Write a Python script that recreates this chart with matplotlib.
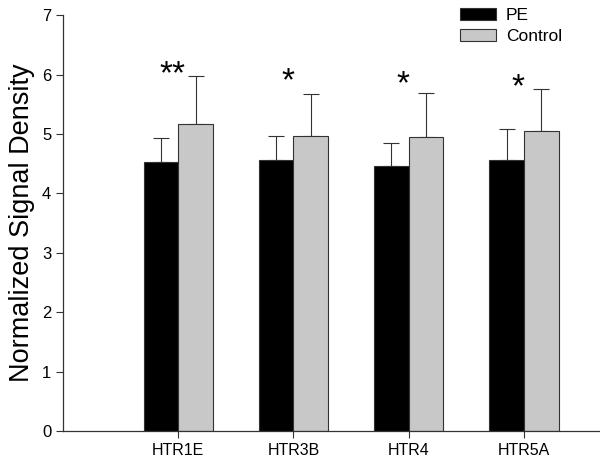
import matplotlib
matplotlib.use("Agg")
import matplotlib.pyplot as plt
import numpy as np

plt.rcParams['font.family'] = ['Liberation Sans', 'DejaVu Sans']

categories = ["HTR1E", "HTR3B", "HTR4", "HTR5A"]
pe_vals = [4.53, 4.56, 4.46, 4.56]
pe_err = [0.41, 0.40, 0.39, 0.52]
ctrl_vals = [5.17, 4.97, 4.95, 5.06]
ctrl_err = [0.81, 0.70, 0.74, 0.70]
stars = ["**", "*", "*", "*"]
star_y = [6.0, 5.88, 5.83, 5.78]

fig = plt.figure(figsize=(6.0, 4.63), dpi=100)
ax = fig.add_axes([0.105, 0.069, 0.895, 0.898])

x = np.arange(len(categories))
w = 0.30
edge = "#333333"
ax.bar(x - w/2, pe_vals, w, color="black", edgecolor=edge, linewidth=0.8, label="PE", zorder=2)
ax.bar(x + w/2, ctrl_vals, w, color="#c8c8c8", edgecolor=edge, linewidth=0.8, label="Control", zorder=2)
ax.errorbar(x - w/2, pe_vals, yerr=[np.zeros(4), pe_err], fmt="none", ecolor=edge,
            elinewidth=0.8, capsize=6, capthick=0.8, zorder=1)
ax.errorbar(x + w/2, ctrl_vals, yerr=[np.zeros(4), ctrl_err], fmt="none", ecolor=edge,
            elinewidth=0.8, capsize=6, capthick=0.8, zorder=1)

for xi, s, sy in zip(x, stars, star_y):
    ax.text(xi - 0.05, sy, s, ha="center", va="center", fontsize=24, color="black")

ax.set_xlim(-1.0, 3.66)
ax.set_ylim(0, 7)
ax.set_xticks(x)
ax.set_xticklabels(categories, fontsize=11.5)
ax.set_yticks(range(0, 8))
ax.tick_params(axis="y", labelsize=12, direction="out", length=5, color=edge)
ax.tick_params(axis="x", direction="out", length=5, color=edge)
for side in ["top", "right"]:
    ax.spines[side].set_visible(False)
for side in ["left", "bottom"]:
    ax.spines[side].set_color(edge)
    ax.spines[side].set_linewidth(0.9)
ax.set_ylabel("Normalized Signal Density", fontsize=19.5, labelpad=5)

ax.legend(loc="upper left", bbox_to_anchor=(0.71, 1.055), frameon=False, fontsize=12.5,
          handlelength=2.1, handleheight=0.65, handletextpad=0.55, labelspacing=0.35)

fig.savefig("out.png", dpi=100)
